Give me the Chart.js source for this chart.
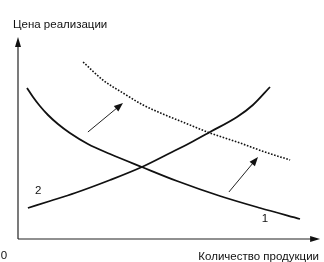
<!DOCTYPE html>
<html><head><meta charset="utf-8">
<script src="https://cdn.jsdelivr.net/npm/chart.js@4"></script>
<style>html,body{margin:0;padding:0;background:#fff}#c{display:block}</style>
</head><body>
<canvas id="c" width="324" height="262"></canvas>
<script>
// Quantity (x) and price (y) in chart units
const demandQ  = [0.3, 0.5, 0.73, 1.0, 1.33, 1.73, 2.33, 3.07, 4.13, 5.3, 6.73, 8.07, 9.4];
const demandP  = [7.55, 7.1, 6.65, 6.2, 5.75, 5.3, 4.75, 4.25, 3.6, 2.9, 2.15, 1.55, 1.0];
const supplyQ  = [0.33, 1.07, 1.9, 3.07, 4.13, 5.07, 5.73, 6.4, 7.3, 7.83, 8.4];
const supplyP  = [1.55, 1.9, 2.3, 2.95, 3.6, 4.3, 4.8, 5.35, 6.1, 6.7, 7.6];
const shiftQ   = [2.17, 2.83, 3.5, 4.17, 4.83, 5.57, 6.4, 7.4, 8.23, 9.07];
const shiftP   = [8.85, 7.95, 7.3, 6.7, 6.25, 5.8, 5.3, 4.8, 4.35, 3.95];
const arrowFrom = [[2.33, 5.35], [7.03, 2.35]];
const arrowTo   = [[3.5, 6.8], [8.0, 4.1]];
const curveLabels = [{t:'2', q:0.67, p:2.4}, {t:'1', q:8.23, p:1.0}];
const axisMax = {q:10.07, p:10.1};
const yTitle = 'Цена реализации';
const xTitle = 'Количество продукции';
const originLabel = '0';

const toPts = (xs, ys) => xs.map((x, i) => ({x, y: ys[i]}));

const FONT = '11.5px "Liberation Sans", Arial, sans-serif';

function arrowHead(ctx, x0, y0, x1, y1, len, wid) {
  const a = Math.atan2(y1 - y0, x1 - x0);
  ctx.beginPath();
  ctx.moveTo(x1, y1);
  ctx.lineTo(x1 - len*Math.cos(a) + wid*Math.sin(a), y1 - len*Math.sin(a) - wid*Math.cos(a));
  ctx.lineTo(x1 - len*Math.cos(a) - wid*Math.sin(a), y1 - len*Math.sin(a) + wid*Math.cos(a));
  ctx.closePath();
  ctx.fill();
}

const decor = {
  id: 'decor',
  afterDatasetsDraw(chart) {
    const ctx = chart.ctx, xs = chart.scales.x, ys = chart.scales.y;
    const X = v => xs.getPixelForValue(v), Y = v => ys.getPixelForValue(v);
    ctx.save();
    // axes
    ctx.strokeStyle = '#222'; ctx.fillStyle = '#111'; ctx.lineWidth = 1.2;
    const ox = X(0), oy = Y(0);
    ctx.beginPath(); ctx.moveTo(ox, oy); ctx.lineTo(X(axisMax.q) - 6, oy); ctx.stroke();
    arrowHead(ctx, ox, oy, X(axisMax.q), oy, 10, 3);
    ctx.beginPath(); ctx.moveTo(ox, oy); ctx.lineTo(ox, Y(axisMax.p) + 6); ctx.stroke();
    arrowHead(ctx, ox, oy, ox, Y(axisMax.p), 10, 3);
    // shift arrows
    ctx.lineWidth = 1;
    arrowFrom.forEach((f, i) => {
      const t = arrowTo[i];
      const x0 = X(f[0]), y0 = Y(f[1]), x1 = X(t[0]), y1 = Y(t[1]);
      const a = Math.atan2(y1 - y0, x1 - x0);
      ctx.beginPath(); ctx.moveTo(x0, y0); ctx.lineTo(x1 - 6*Math.cos(a), y1 - 6*Math.sin(a)); ctx.stroke();
      arrowHead(ctx, x0, y0, x1, y1, 9, 3.5);
    });
    // texts
    ctx.fillStyle = '#111'; ctx.font = FONT; ctx.textBaseline = 'middle';
    curveLabels.forEach(l => { ctx.textAlign = 'center'; ctx.fillText(l.t, X(l.q), Y(l.p)); });
    ctx.textAlign = 'left'; ctx.fillText(yTitle, 13, 25);
    ctx.textAlign = 'right'; ctx.fillText(xTitle, 319, 257);
    ctx.textAlign = 'center'; ctx.fillText(originLabel, 4, 256);
    ctx.restore();
  }
};

const lineDs = (data, dash) => ({
  data, showLine: true, pointRadius: 0, borderColor: '#111',
  borderWidth: dash ? 1.6 : 1.8, borderDash: dash || [],
  cubicInterpolationMode: 'monotone', fill: false
});

new Chart(document.getElementById('c'), {
  type: 'scatter',
  data: { datasets: [
    lineDs(toPts(demandQ, demandP)),
    lineDs(toPts(supplyQ, supplyP)),
    lineDs(toPts(shiftQ, shiftP), [1.6, 1.6])
  ]},
  options: {
    responsive: false, animation: false,
    layout: { padding: { left: 18, right: 6, top: 39, bottom: 23 } },
    plugins: { legend: { display: false }, tooltip: { enabled: false } },
    scales: {
      x: { type: 'linear', min: 0, max: 10, display: false },
      y: { type: 'linear', min: 0, max: 10, display: false }
    }
  },
  plugins: [decor]
});
</script>
</body></html>
